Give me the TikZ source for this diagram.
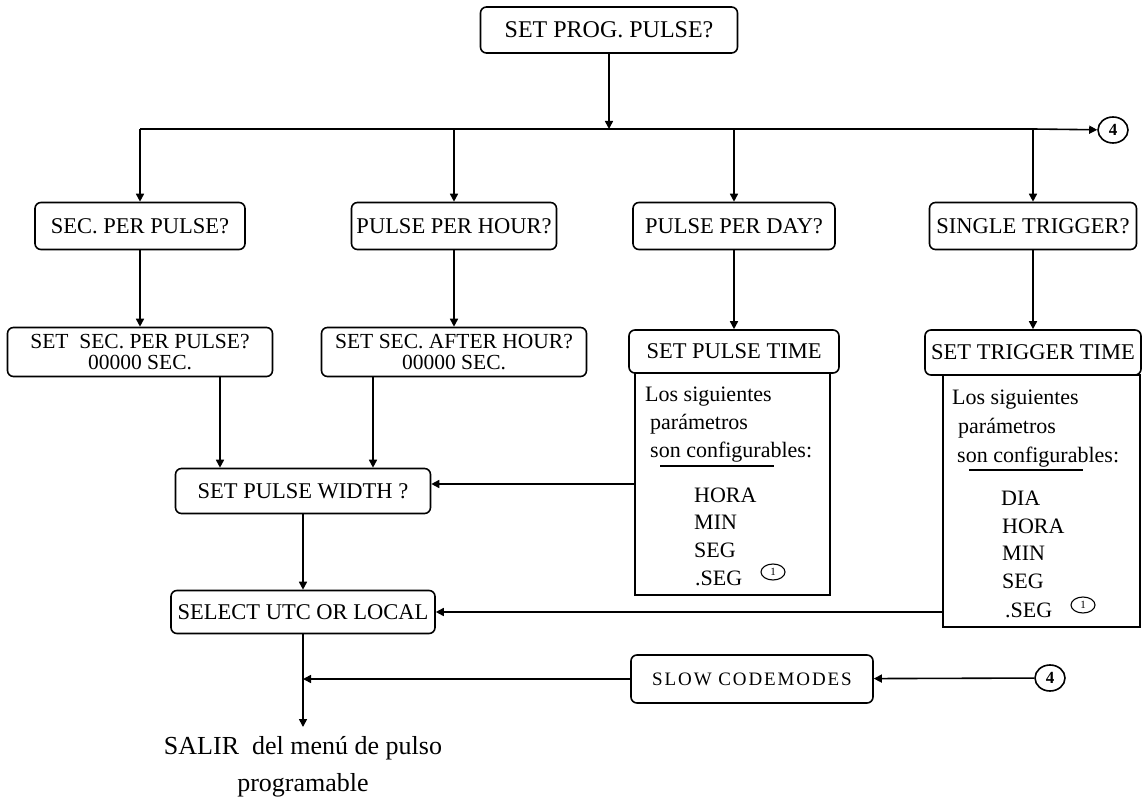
\documentclass[tikz,border=0pt]{standalone}
\usepackage{fontspec}
\setmainfont{Liberation Serif}
\usetikzlibrary{arrows.meta,shapes.geometric}

\tikzset{
  menubox/.style={draw, line width=1.6pt, rounded corners=6pt, align=center,
    inner sep=0pt, font=\fontsize{22.5}{20}\selectfont},
  twoline/.style={font=\fontsize{21.5}{21.5}\selectfont},
  listbox/.style={draw, line width=1.6pt, inner sep=0pt},
  wire/.style={line width=1.6pt},
  arr/.style={line width=1.6pt, -{Triangle[length=8pt,width=8pt]}},
  ptxt/.style={anchor=base west, inner sep=0pt, font=\fontsize{22}{26}\selectfont},
  conn/.style={draw, ellipse, line width=1.6pt, inner sep=0pt, minimum width=30pt,
    minimum height=26pt, font=\bfseries\fontsize{17}{17}\selectfont},
  note/.style={draw, ellipse, line width=1.1pt, inner sep=0pt, minimum width=24pt,
    minimum height=16pt, font=\fontsize{11}{11}\selectfont},
}

\begin{document}
\begin{tikzpicture}[x=1pt,y=-1pt]
\useasboundingbox (0,0) rectangle (1143,799);

% main entry
\node[menubox, minimum width=257, minimum height=46, font=\fontsize{24}{24}\selectfont]
  (top) at (609,30) {SET PROG. PULSE?};
\coordinate (bus) at (0,129);

% first level choices
\node[menubox, minimum width=210, minimum height=47] (secpp) at (140,226) {SEC. PER PULSE?};
\node[menubox, minimum width=205, minimum height=47] (pph) at (454,226) {PULSE PER HOUR?};
\node[menubox, minimum width=202, minimum height=47] (ppd) at (734,226) {PULSE PER DAY?};
\node[menubox, minimum width=207, minimum height=47] (stg) at (1033,226) {SINGLE TRIGGER?};

% second level
\node[menubox, twoline, minimum width=265, minimum height=49] (setsecpp) at (140,352)
  {SET\ \ SEC. PER PULSE?\\00000 SEC.};
\node[menubox, twoline, minimum width=265, minimum height=49] (setsecah) at (454,352)
  {SET SEC. AFTER HOUR?\\00000 SEC.};

\node[listbox, minimum width=195, minimum height=222] (ptparams) at (732.5,484) {};
\node[menubox, fill=white, minimum width=210, minimum height=43] (spt) at (734,351.5)
  {SET PULSE TIME};
\node[listbox, minimum width=197, minimum height=252] (trparams) at (1041.5,501) {};
\node[menubox, fill=white, minimum width=216, minimum height=45] (stt) at (1033,352.5)
  {SET TRIGGER TIME};

% parameter lists
\foreach \t/\x/\y [count=\i] in {Los siguientes/645/402, parámetros/650/429,
    son configurables:/650/457, HORA/694/502, MIN/694/529, SEG/694/557, .SEG/695/585}
  \node[ptxt] (pt-\i) at (\x,\y) {\t};
\foreach \t/\x/\y [count=\i] in {Los siguientes/952/405, parámetros/958/433,
    son configurables:/957/462, DIA/1001/505, HORA/1002/533, MIN/1002/560,
    SEG/1002/588, .SEG/1005/617}
  \node[ptxt] (tt-\i) at (\x,\y) {\t};
\draw[line width=1.3pt] (660,466) -- (774,466);
\draw[line width=1.3pt] (969,470) -- (1083,470);
\node[note] (n1) at (773,572) {1};
\node[note] (n2) at (1083,605) {1};

% common tail
\node[menubox, minimum width=255, minimum height=45] (spw) at (303,491) {SET PULSE WIDTH ?};
\node[menubox, minimum width=264, minimum height=43] (sutc) at (303,612) {SELECT UTC OR LOCAL};
\node[menubox, minimum width=242, minimum height=48, font=\fontsize{19}{19}\selectfont]
  (scm) at (752,679) {\addfontfeature{LetterSpace=10}SLOW CODEMODES};
\node[conn] (c4a) at (1113,130) {4};
\node[conn] (c4b) at (1050,678) {4};
\node[align=center, inner sep=0pt, anchor=north, font=\fontsize{26}{37}\selectfont]
  (exit) at (303,736) {SALIR\ \ del menú de pulso\\programable};

% connectors
\draw[arr] (top) -- (top |- bus);
\draw[wire] (secpp |- bus) -- (stg |- bus);
\draw[arr] (stg |- bus) -- (c4a);
\foreach \n in {secpp,pph,ppd,stg}
  \draw[arr] (\n |- bus) -- (\n);
\draw[arr] (secpp) -- (setsecpp);
\draw[arr] (pph) -- (setsecah);
\draw[arr] (ppd) -- (spt);
\draw[arr] (stg) -- (stt);
\draw[arr] ([xshift=80pt]setsecpp.south) -- ([xshift=80pt]setsecpp.south |- spw.north);
\draw[arr] ([xshift=-81pt]setsecah.south) -- ([xshift=-81pt]setsecah.south |- spw.north);
\draw[arr] (ptparams.west) -- (ptparams.west -| spw.east);
\draw[arr] (spw) -- (sutc);
\draw[arr] (trparams.west |- sutc.east) -- (sutc.east);
\draw[arr] (sutc) -- ([yshift=9pt]exit.north);
\draw[arr] (c4b) -- (scm);
\draw[arr] (scm) -- (scm -| sutc);
\end{tikzpicture}
\end{document}
